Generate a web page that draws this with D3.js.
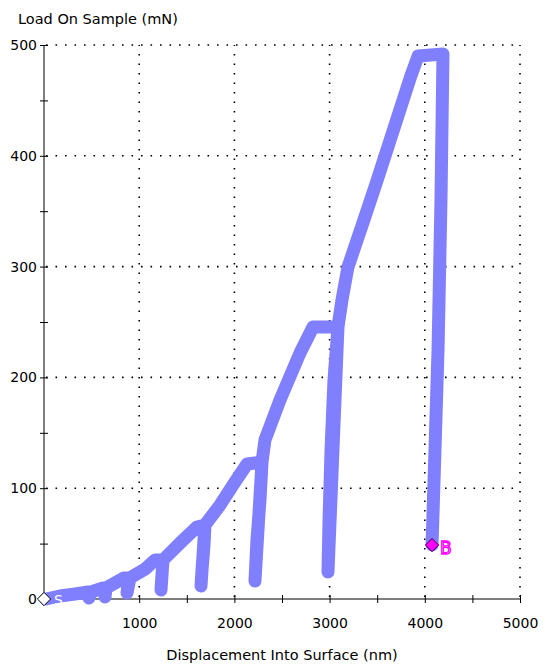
<!DOCTYPE html>
<html>
<head>
<meta charset="utf-8">
<script src="https://cdn.jsdelivr.net/npm/d3@7"></script>
<style>
  html, body { margin: 0; padding: 0; background: #fff; }
  svg { display: block; }
  text { font-family: "DejaVu Sans", Verdana, sans-serif; }
</style>
</head>
<body>
<svg id="chart" width="550" height="669"></svg>
<script>
// ---- Data ----
const displacement = [20, 168, 326, 462, 494, 473, 494, 620, 651, 641, 651, 746, 840, 903, 882, 872, 903,
  1061, 1166, 1250, 1239, 1229, 1250, 1429, 1607, 1691, 1681, 1660, 1649, 1691,
  1849, 2006, 2132, 2290, 2269, 2237, 2216, 2290,
  2321, 2479, 2689, 2826, 3088, 3046, 3015, 2994, 2983, 3088,
  3130, 3193, 3350, 3490, 3660, 3850, 3929, 4191, 4170, 4139, 4107, 4076];
const load = [0, 2.7, 4.5, 6.3, 6.3, 0.9, 6.3, 9.9, 9.9, 1.8, 9.9, 14.4, 19, 19, 13.5, 5.4, 19,
  27, 35.2, 35.2, 21.7, 8.1, 35.2, 50.5, 65, 66.8, 48.7, 26.2, 11.7, 66.8,
  84.8, 105.6, 121.8, 123.6, 89.4, 53.2, 16.2, 123.6,
  143.5, 179.6, 222, 245.5, 245.5, 197.7, 134.5, 71.3, 24.4, 245.5,
  269.9, 299.6, 339.4, 375.5, 420.6, 471.1, 490, 491.9, 360, 224.7, 134.5, 48.7];
const xMajorTicks = [1000, 2000, 3000, 4000, 5000];
const xAllTicks = [500, 1000, 1500, 2000, 2500, 3000, 3500, 4000, 4500, 5000];
const yMajorTicks = [0, 100, 200, 300, 400, 500];
const yAllTicks = [0, 50, 100, 150, 200, 250, 300, 350, 400, 450, 500];
const xGrid = [1000, 2000, 3000, 4000, 5000];
const yGrid = [100, 200, 300, 400, 500];
const startPoint = {x: 0, y: 0, label: "S"};
const endPoint = {x: 4076, y: 48.7, label: "B"};
const yTitle = "Load On Sample (mN)";
const xTitle = "Displacement Into Surface (nm)";

// ---- Chart ----
const svg = d3.select("#chart");
const x = d3.scaleLinear().domain([0, 5000]).range([44, 520]);
const y = d3.scaleLinear().domain([0, 500]).range([599, 45]);

// dotted grid
const grid = svg.append("g");
grid.selectAll("line.v").data(xGrid).join("line")
  .attr("x1", d => x(d)).attr("x2", d => x(d))
  .attr("y1", y(0) - 2).attr("y2", y(500))
  .attr("stroke", "#000").attr("stroke-width", 1.6)
  .attr("stroke-dasharray", "1.6,7.9");
grid.selectAll("line.h").data(yGrid).join("line")
  .attr("x1", x(0) + 2).attr("x2", x(5000))
  .attr("y1", d => y(d)).attr("y2", d => y(d))
  .attr("stroke", "#000").attr("stroke-width", 1.6)
  .attr("stroke-dasharray", "1.6,7.9");

// axes
const xAxis = d3.axisBottom(x).tickValues(xAllTicks).tickSize(4).tickPadding(15)
  .tickFormat(d => xMajorTicks.includes(d) ? d : "");
const gx = svg.append("g").attr("transform", `translate(0,${y(0)})`).call(xAxis);
gx.select(".domain").attr("d", `M${x(0)},0H${x(5000)}`).attr("stroke", "#000");
gx.selectAll(".tick line").attr("y1", -4).attr("y2", 4).attr("stroke", "#000");
gx.selectAll(".tick text").attr("font-size", 14).attr("fill", "#000")
  .attr("font-family", "DejaVu Sans, sans-serif");

const yAxis = d3.axisLeft(y).tickValues(yAllTicks).tickSize(4).tickPadding(3)
  .tickFormat(d => yMajorTicks.includes(d) ? d : "");
const gy = svg.append("g").attr("transform", `translate(${x(0)},0)`).call(yAxis);
gy.select(".domain").attr("d", `M0,${y(0)}V${y(500)}`).attr("stroke", "#000");
gy.selectAll(".tick line").attr("x1", -4).attr("x2", 4).attr("stroke", "#000");
gy.selectAll(".tick text").attr("font-size", 14).attr("fill", "#000")
  .attr("font-family", "DejaVu Sans, sans-serif");

// data line
const pts = displacement.map((d, i) => [d, load[i]]);
const line = d3.line().x(d => x(d[0])).y(d => y(d[1]));
svg.append("path").datum(pts)
  .attr("d", line)
  .attr("fill", "none")
  .attr("stroke", "#8080ff")
  .attr("stroke-width", 13)
  .attr("stroke-linecap", "round")
  .attr("stroke-linejoin", "round");

// markers
const diamond = d3.symbol().type(d3.symbolDiamond2).size(112);
svg.append("path").attr("d", diamond)
  .attr("transform", `translate(${x(startPoint.x)},${y(startPoint.y)})`)
  .attr("fill", "#fff").attr("stroke", "#000").attr("stroke-width", 1);
svg.append("text").text(startPoint.label)
  .attr("x", x(startPoint.x) + 10).attr("y", y(startPoint.y) + 6)
  .attr("font-size", 14).attr("fill", "#fff");

svg.append("path").attr("d", diamond)
  .attr("transform", `translate(${x(endPoint.x)},${y(endPoint.y)})`)
  .attr("fill", "#ff00ff").attr("stroke", "#400040").attr("stroke-width", 1);
svg.append("text").text(endPoint.label)
  .attr("x", x(endPoint.x) + 8).attr("y", y(endPoint.y) + 9)
  .attr("font-size", 17).attr("fill", "#fff")
  .attr("stroke", "#ff00ff").attr("stroke-width", 1.3);

// titles
svg.append("text").text(yTitle)
  .attr("x", 18).attr("y", 24).attr("font-size", 14.5).attr("fill", "#000");
svg.append("text").text(xTitle)
  .attr("x", (x(0) + x(5000)) / 2).attr("y", 660)
  .attr("text-anchor", "middle").attr("font-size", 14.5).attr("fill", "#000");
</script>
</body>
</html>
